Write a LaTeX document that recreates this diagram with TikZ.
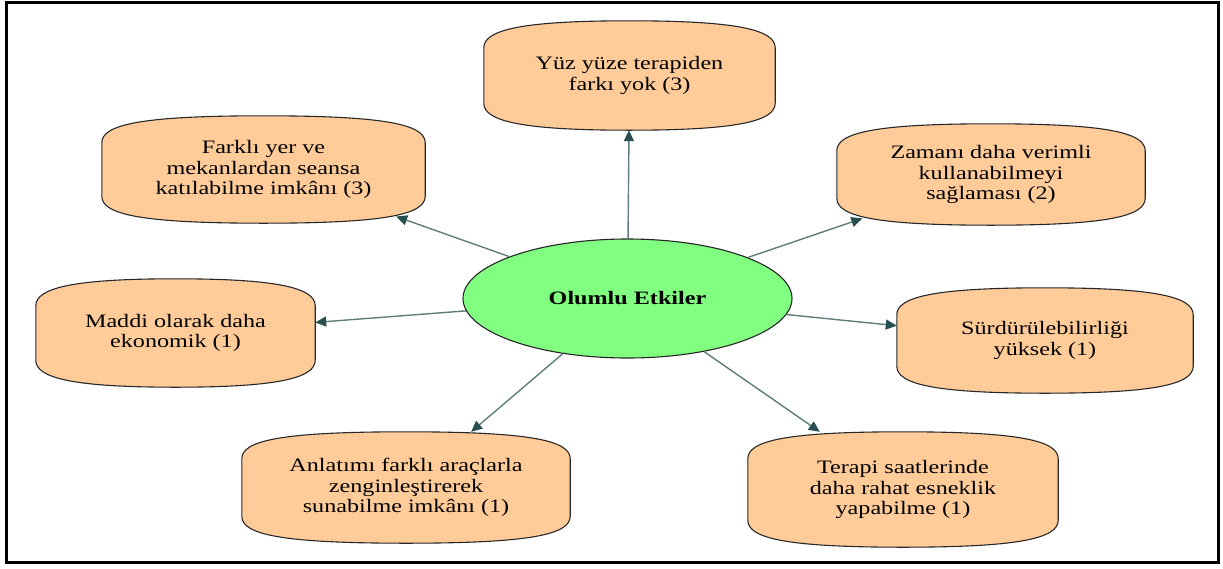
\documentclass[tikz,border=0pt]{standalone}
\usepackage{fontspec}
\setmainfont{Liberation Serif}[FakeStretch=1.27]
\usetikzlibrary{shapes.geometric,arrows.meta,backgrounds,calc}
\definecolor{boxfill}{RGB}{255,204,153}
\definecolor{ellfill}{RGB}{128,255,128}
\definecolor{arrline}{RGB}{95,125,125}
\definecolor{arrhead}{RGB}{40,80,80}
\definecolor{boxedge}{RGB}{40,40,40}
\tikzset{
 item/.style={align=center, inner sep=0pt, font=\rmfamily\fontsize{19}{20.5}\selectfont, text=black},
 hub/.style={ellipse, draw=black!85, line width=1.1pt, fill=ellfill, inner sep=0pt, font=\rmfamily\bfseries\fontsize{19}{20.5}\selectfont, text=black},
 conn/.style={draw=arrline, line width=1.4pt, -{Triangle[length=11pt,width=10pt,color=arrhead]}},
 outline/.style={draw=boxedge, line width=1.1pt, fill=boxfill},
 frame/.style={draw=black, line width=3pt}
}
\begin{document}
\begin{tikzpicture}[x=1pt,y=1pt]
\useasboundingbox (0,0) rectangle (1223,-568);
\draw[frame] (6,-2.5) rectangle (1218.5,-562.5);
\node[hub, minimum width=329pt, minimum height=119pt] (c) at (627.5,-298.5) {Olumlu Etkiler};
\node[item, minimum width=291pt, minimum height=109pt] (yuz) at (629.5,-75.5) {Yüz yüze terapiden\\farkı yok (3)};
\node[item, minimum width=323pt, minimum height=107pt] (farkli) at (263.5,-169.5) {Farklı yer ve\\mekanlardan seansa\\katılabilme imkânı (3)};
\node[item, minimum width=308pt, minimum height=101pt] (zaman) at (991,-174.5) {Zamanı daha verimli\\kullanabilmeyi\\sağlaması (2)};
\node[item, minimum width=279pt, minimum height=108pt] (maddi) at (175.5,-333) {Maddi olarak daha\\ekonomik (1)};
\node[item, minimum width=296pt, minimum height=105pt] (surdur) at (1045,-340.5) {Sürdürülebilirliği\\yüksek (1)};
\node[item, minimum width=328pt, minimum height=111pt] (anlatim) at (406,-487.5) {Anlatımı farklı araçlarla\\zenginleştirerek\\sunabilme imkânı (1)};
\node[item, minimum width=310pt, minimum height=115pt] (terapi) at (903,-489.5) {Terapi saatlerinde\\daha rahat esneklik\\yapabilme (1)};
\begin{scope}[on background layer]
\foreach \n in {yuz,farkli,zaman,maddi,surdur,anlatim,terapi}{
 \draw[outline] ([yshift=27pt]\n.south west) -- ([yshift=-27pt]\n.north west)
   .. controls ([yshift=-9pt]\n.north west) and ([xshift=38pt]\n.north west) .. (\n.north)
   .. controls ([xshift=-38pt]\n.north east) and ([yshift=-9pt]\n.north east) .. ([yshift=-27pt]\n.north east)
   -- ([yshift=27pt]\n.south east)
   .. controls ([yshift=9pt]\n.south east) and ([xshift=-38pt]\n.south east) .. (\n.south)
   .. controls ([xshift=38pt]\n.south west) and ([yshift=9pt]\n.south west) .. ([yshift=27pt]\n.south west)
   -- cycle;
}
\end{scope}
\draw[conn] (c) -- (yuz);
\draw[conn, shorten >=-20pt] (c) -- (farkli);
\draw[conn, shorten >=-21pt] (c) -- (zaman);
\draw[conn] (c) -- (maddi);
\draw[conn] (c) -- (surdur);
\draw[conn] (c) -- (anlatim);
\draw[conn] (c) -- (terapi);
\end{tikzpicture}
\end{document}
